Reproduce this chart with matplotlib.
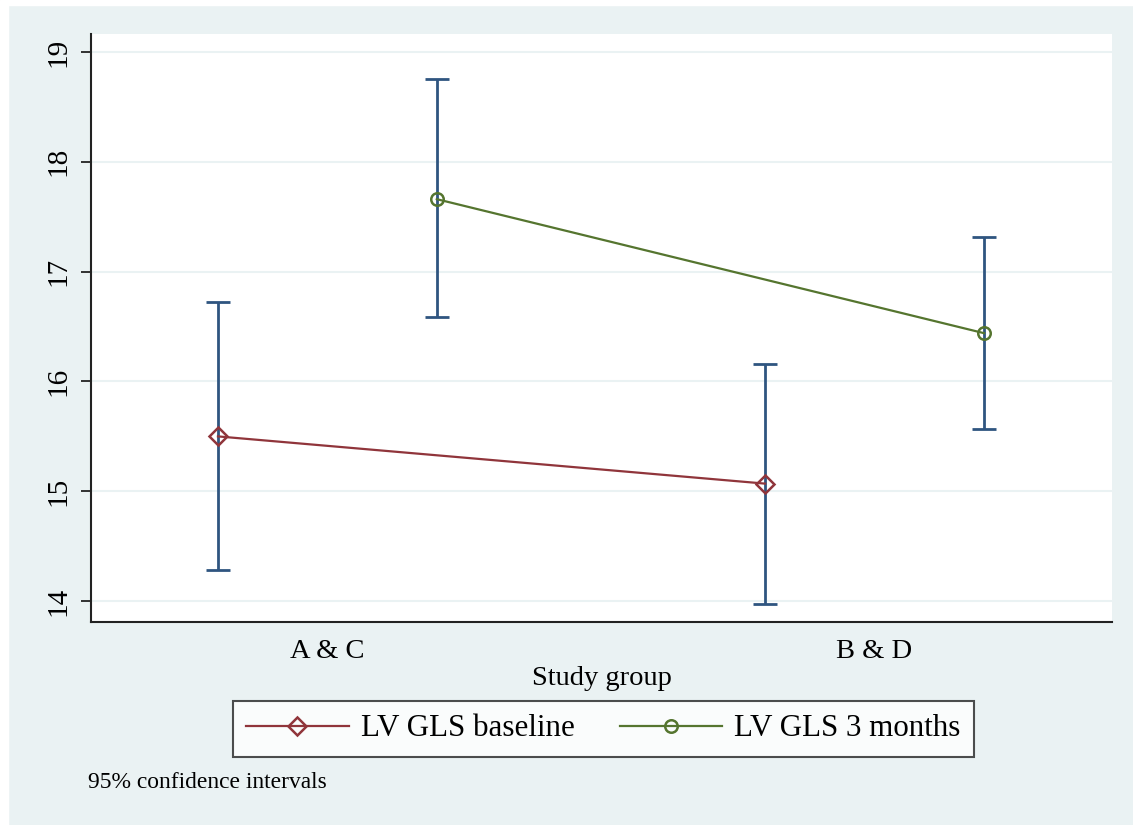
import matplotlib
matplotlib.use("Agg")
import matplotlib.pyplot as plt
from matplotlib.patches import Rectangle
import numpy as np

# Data
groups = ["A & C", "B & D"]
series_names = ["LV GLS baseline", "LV GLS 3 months"]
baseline_mean = [15.50, 15.07]
baseline_lo = [14.28, 13.97]
baseline_hi = [16.72, 16.16]
m3_mean = [17.66, 16.44]
m3_lo = [16.59, 15.57]
m3_hi = [18.75, 17.32]
yticks = [14, 15, 16, 17, 18, 19]
note = "95% confidence intervals"
xlabel = "Study group"

BG = "#EAF2F3"
RED = "#90353B"
GREEN = "#55752F"
NAVY = "#2F5580"

plt.rcParams['font.family'] = ['Liberation Serif', 'DejaVu Serif']
FS = 20.5

fig = plt.figure(figsize=(11.33, 8.25), dpi=100, facecolor=BG)
fig.patches.append(Rectangle((0, 0), 8/1133, 1, transform=fig.transFigure, color="white", zorder=-1))
fig.patches.append(Rectangle((0, 1-5/825), 1, 5/825, transform=fig.transFigure, color="white", zorder=-1))

ax = fig.add_axes([91/1133, 1-622/825, (1112-91)/1133, (622-34)/825])
ax.set_facecolor("white")

xc = np.arange(1, len(groups)+1)
off = 0.2
xb = xc - off
xm = xc + off

for x, lo, hi in [(xb, baseline_lo, baseline_hi), (xm, m3_lo, m3_hi)]:
    ax.vlines(x, lo, hi, color=NAVY, lw=2.0, zorder=3)
    ax.hlines(lo, x-0.022, x+0.022, color=NAVY, lw=2.0, zorder=3)
    ax.hlines(hi, x-0.022, x+0.022, color=NAVY, lw=2.0, zorder=3)

ax.plot(xb, baseline_mean, color=RED, lw=1.6, marker="D", ms=9.5, mfc="none",
        mec=RED, mew=1.8, label=series_names[0], zorder=4)
ax.plot(xm, m3_mean, color=GREEN, lw=1.6, marker="o", ms=9, mfc="none",
        mec=GREEN, mew=1.8, label=series_names[1], zorder=4)

ax.set_xlim(0.568, 2.434)
ax.set_ylim(13.81, 19.164)
ax.set_yticks(yticks)
ax.set_yticklabels([str(t) for t in yticks], rotation=90, va="center", fontsize=FS + 0.5)
ax.set_xticks(xc)
ax.set_xticklabels(groups, fontsize=FS)
ax.tick_params(axis="x", length=0, pad=12)
ax.tick_params(axis="y", length=7, width=1.3, pad=7, color="#222222")
ax.grid(axis="y", color=BG, lw=1.5, zorder=0)
ax.set_axisbelow(True)
for s in ["top", "right"]:
    ax.spines[s].set_visible(False)
for s in ["left", "bottom"]:
    ax.spines[s].set_color("#222222")
    ax.spines[s].set_linewidth(1.5)

ax.set_xlabel(xlabel, fontsize=FS, labelpad=2)

leg = fig.legend(loc="center", bbox_to_anchor=(603.5/1133, 1-729/825), ncol=2,
                 fontsize=22.3, frameon=True, fancybox=False, handlelength=3.3,
                 handletextpad=0.4, columnspacing=1.45, borderpad=0.42)
leg.get_frame().set_edgecolor("#222222")
leg.get_frame().set_linewidth(1.5)
leg.get_frame().set_facecolor("white")

fig.text(88/1133, 1-783/825, note, fontsize=16.9, va="center", ha="left")

fig.savefig("out.png", dpi=100, facecolor=BG)
